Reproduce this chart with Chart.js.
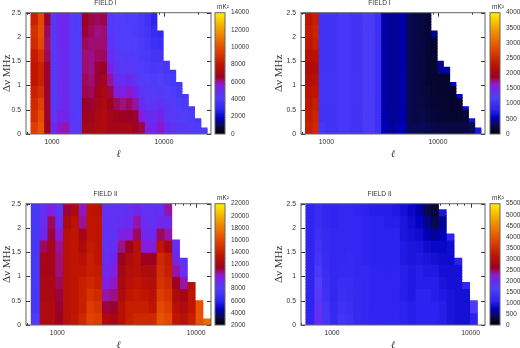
<!DOCTYPE html>
<html><head><meta charset="utf-8">
<style>
html,body{margin:0;padding:0;background:#fff;width:520px;height:348px;overflow:hidden;position:relative}
.c{position:absolute;filter:blur(0.4px)}
canvas{display:block}
</style>
<script src="https://cdn.jsdelivr.net/npm/chart.js@4"></script>
</head><body>
<script>
// Column edges in multipole l
const ellEdges=[650,740,842,958,1090,1241,1412,1607,1829,2081,2369,2695,3067,3491,3972,4521,5145,5855,6663,7582,8629,9820,11175,12717,14472,16470,18743,21330,24274];
const ellMinor=[600,700,800,900,2000,3000,4000,5000,6000,7000,8000,9000,20000];
const ellMajor=[1000,10000];
const nuTicks=[0,0.5,1,1.5,2,2.5];
const field1Bar=[0,2000,4000,6000,8000,10000,12000,14000];
const field2Bar=[0,500,1000,1500,2000,2500,3000,3500,4000];
const field3Bar=[2000,4000,6000,8000,10000,12000,14000,16000,18000,20000,22000];
const field4Bar=[0,500,1000,1500,2000,2500,3000,3500,4000,4500,5000,5500];
// Top of each column in MHz
const field1Tops=[2.5,2.5,2.5,2.5,2.5,2.5,2.5,2.5,2.5,2.5,2.5,2.5,2.5,2.5,2.5,2.5,2.5,2.5,2.5,2.5,2.125,1.5,1.3125,1.0625,0.8125,0.5625,0.3125,0.125];
const field2Tops=[2.5,2.5,2.5,2.5,2.5,2.5,2.5,2.5,2.5,2.5,2.5,2.5,2.5,2.5,2.5,2.5,2.5,2.5,2.5,2.5,2.125,1.5,1.375,1.0625,0.8125,0.5625,0.3125,0.125];
const field3Tops=[2.5,2.5,2.5,2.5,2.5,2.5,2.5,2.5,2.5,2.5,2.5,2.5,2.5,2.5,2.5,2.5,2.5,2.5,1.75,1.375,0.875,0.5,0.125];
const field4Tops=[2.5,2.5,2.5,2.5,2.5,2.5,2.5,2.5,2.5,2.5,2.5,2.5,2.5,2.5,2.5,2.5,2.5,2.375,1.875,1.375,0.875,0.5];
// Power per column (mK^2), one value per 0.25 MHz band from the bottom up
const field1Values=[
[9500,9000,8800,8500,8000,8000,8200,8800,9000,8500],
[10200,10000,9600,9000,8500,8500,9000,9800,10000,9800],
[6800,6500,6500,6500,6500,6500,6300,6200,6300,6500],
[5000,4600,4400,4400,4400,4400,4400,4400,4400,4400],
[5800,5300,5000,5000,5000,5000,5000,5100,5200,5200],
[5900,5300,5200,5200,5200,5200,5200,5200,5200,5200],
[4500,4400,4300,4300,4300,4300,4300,4300,4300,4300],
[4400,4300,4300,4300,4300,4300,4300,4300,4300,4300],
[7000,6800,6600,6400,6300,6200,6200,6300,6500,6600],
[7000,6800,6500,6300,6200,6100,6100,6200,6300,6400],
[7300,7200,7000,6800,6500,6500,6300,6200,6100,6300],
[7400,7400,7300,7200,7000,6600,6300,6200,6200,6400],
[7000,7000,6800,6400,6000,5500,5000,4800,4500,4400],
[7000,6800,6300,5600,5000,4700,4500,4300,4300,4200],
[7000,6700,6100,5400,4900,4500,4300,4200,4200,4200],
[7000,6600,6300,5800,5100,4600,4400,4200,4200,4100],
[6800,6500,6000,5300,4700,4400,4300,4200,4100,4100],
[6400,5600,5000,4600,4300,4100,4000,4000,3900,3900],
[5400,5100,4600,4400,4200,4000,3900,3800,3700,3600],
[5200,4900,4600,4300,4100,3900,3700,3500,3300,2900],
[5800,5400,4800,4400,4200,4000,3700,3400,3100],
[5000,4600,4400,4200,4000,3800],
[4700,4500,4300,4100,3900,3700],
[4500,4300,4100,3900,3800],
[4400,4200,4000,3900],
[4300,4100,3900],
[4100,3900],
[4100]];
const field2Values=[
[2400,2350,2300,2250,2150,2100,2200,2300,2350,2300],
[2500,2450,2400,2300,2200,2150,2250,2400,2450,2400],
[1100,1050,1050,1050,1050,1050,1050,1050,1050,1050],
[1050,1050,1050,1050,1050,1050,1050,1050,1050,1050],
[1050,1050,1050,1050,1050,1050,1050,1050,1050,1050],
[1100,1100,1100,1100,1100,1100,1100,1100,1100,1100],
[1100,1100,1100,1100,1100,1100,1100,1100,1100,1100],
[1050,1050,1050,1050,1050,1050,1050,1050,1050,1050],
[1050,1050,1050,1050,1050,1050,1050,1050,1050,1050],
[1150,1150,1150,1150,1150,1150,1150,1150,1150,1150],
[1150,1150,1150,1150,1150,1150,1150,1150,1150,1150],
[1000,1000,1000,1000,1000,1000,1000,1000,1000,1000],
[500,480,470,470,470,470,470,470,470,470],
[450,430,430,430,430,430,430,430,430,430],
[470,450,450,450,450,450,450,450,450,450],
[500,480,480,480,480,480,480,480,480,480],
[300,270,270,270,270,270,270,270,270,270],
[280,250,250,250,250,250,250,250,250,250],
[310,270,240,230,230,230,230,230,230,230],
[270,230,210,200,190,190,190,190,190,190],
[260,210,190,180,170,170,170,180,430],
[250,190,170,160,160,420],
[240,180,170,160,160,480],
[230,180,160,160,520],
[240,180,170,560],
[250,200,600],
[280,650],
[700]];
const field3Values=[
[7800,7500,7500,7500,7500,7500,7500,7500,7500,7500],
[12500,12500,12300,12200,12000,12000,11000,9500,9200,9000],
[12500,12500,12300,12200,12000,12000,12000,11200,11000,9800],
[11400,11300,11200,11000,10800,10800,10600,10000,9000,8500],
[13000,13000,13000,13000,13000,13000,13000,13000,12500,11200],
[13600,13500,13500,13500,13500,13500,13500,13500,13200,12500],
[14500,14000,14000,14000,13500,13000,12500,12000,10600,10300],
[15800,15500,15000,14500,14000,14000,13800,13500,13500,13500],
[15500,15000,14500,14000,13800,13500,13500,13500,13500,13200],
[12500,11200,10500,9800,9500,9000,8800,8800,8800,8800],
[12000,11300,10700,10300,9800,9500,9000,8700,8700,8700],
[13000,13000,12500,12200,12000,11500,10700,9800,9000,8800],
[14000,14000,13500,13000,12800,12500,11500,10000,9200,9000],
[14500,14000,13800,13500,13000,13000,13000,11000,10500,9500],
[14500,14000,13500,13000,12500,11500,10000,9500,9000,8800],
[14500,13500,13000,12800,12500,11500,10000,9300,9000,8800],
[16500,16000,15500,15000,14800,14500,13500,11000,9500,8800],
[16000,15500,15000,14500,14000,13800,12000,10500,9300,10500],
[13500,13000,12500,11500,10500,9500,9000],
[13000,12500,12000,10500,9000,8500],
[14000,13500,13500,13000],
[16500,16500],
[17500]];
const field4Values=[
[1150,1150,1150,1150,1150,1150,1150,1150,1150,1150],
[1950,1850,1750,1650,1550,1450,1400,1350,1300,1300],
[1500,1450,1400,1350,1300,1300,1250,1250,1200,1200],
[1250,1250,1200,1200,1200,1200,1200,1200,1150,1150],
[1450,1400,1350,1300,1250,1200,1200,1200,1200,1200],
[1400,1350,1300,1300,1250,1250,1200,1200,1200,1200],
[1250,1250,1250,1250,1200,1200,1200,1200,1200,1150],
[1200,1200,1200,1200,1200,1150,1150,1150,1150,1100],
[1150,1150,1150,1150,1150,1100,1100,1100,1100,1050],
[1150,1150,1150,1150,1150,1100,1100,1100,1100,1050],
[1150,1150,1150,1150,1100,1100,1100,1100,1050,1050],
[1150,1150,1150,1150,1150,1100,1100,1100,1050,1000],
[1100,1100,1050,1050,1050,1000,1000,950,950,900],
[1050,1050,1000,1000,1000,950,950,900,850,800],
[1100,1100,1100,1050,1050,1000,950,850,750,650],
[1100,1100,1100,1050,1000,950,850,700,550,380],
[1100,1100,1050,1050,1000,900,800,600,380,270],
[1050,1050,1000,950,900,850,800,700,600,950],
[950,950,950,900,900,850,850,1150],
[900,900,900,900,900,1100],
[900,900,900,1200],
[1100,1600]];

// Colour scale stops: fraction of the range and RGB
const paletteStops=[
[0,0,0,0],[0.07,10,10,80],[0.13,0,0,190],[0.2,45,35,240],[0.3,80,62,250],[0.37,110,40,240],[0.41,140,25,215],
[0.44,160,15,120],[0.47,155,0,35],[0.57,190,20,0],[0.71,230,75,0],[0.86,240,155,0],[1,255,240,0]];
function paletteAt(f){
  f=Math.max(0,Math.min(1,f));
  for(let i=1;i<paletteStops.length;i++){
    const a=paletteStops[i-1],b=paletteStops[i];
    if(f<=b[0]){const t=(f-a[0])/(b[0]-a[0]);
      return `rgb(${a[1]+(b[1]-a[1])*t|0},${a[2]+(b[2]-a[2])*t|0},${a[3]+(b[3]-a[3])*t|0})`;}
  }
  return 'rgb(255,240,0)';
}

const FONT='"Liberation Sans",Arial,sans-serif', SERIF='"DejaVu Serif","Liberation Serif",serif', INK='#333', FRAME='#666';
const ROW=0.0625, ROWS=40;
const rowLabels=Array.from({length:ROWS},(_,i)=>String(i*ROW));

const tickPlugin={id:'insideTicks',
  beforeDatasetsDraw(chart,_,o){
    const {ctx,chartArea:a}=chart, X=chart.scales.x, Y=chart.scales.nu;
    ctx.save();ctx.strokeStyle=INK;ctx.lineWidth=1;ctx.beginPath();
    const vt=(v,l)=>{const p=Math.round(X.getPixelForValue(v))+.5;if(p<a.left||p>a.right)return;
      ctx.moveTo(p,a.bottom);ctx.lineTo(p,a.bottom-l);ctx.moveTo(p,a.top);ctx.lineTo(p,a.top+l);};
    ellMajor.forEach(v=>vt(v,4));ellMinor.forEach(v=>vt(v,2));
    nuTicks.forEach(v=>{const p=Math.round(Y.getPixelForValue(v))+.5;
      ctx.moveTo(a.left,p);ctx.lineTo(a.left+4,p);ctx.moveTo(a.right,p);ctx.lineTo(a.right-4,p);});
    ctx.stroke();ctx.restore();
  },
  afterDraw(chart){
    const {ctx,chartArea:a}=chart;ctx.save();ctx.strokeStyle=FRAME;ctx.lineWidth=1;
    ctx.strokeRect(a.left,a.top,a.right-a.left,a.bottom-a.top);ctx.restore();
  }};

function heatmap(p){
  const box=document.createElement('div');box.className='c';
  box.style.cssText=`left:${p.left}px;top:${p.top}px;width:${p.w}px;height:174px`;
  const cv=document.createElement('canvas');box.appendChild(cv);document.body.appendChild(box);
  const datasets=p.values.map((col,k)=>{
    const data=[],colors=[];
    for(let r=0;r<ROWS;r++){
      const v=col[Math.floor(r/4)];
      if(r*ROW<p.tops[k]-1e-6&&v!=null){data.push([ellEdges[k],ellEdges[k+1]]);colors.push(paletteAt((v-p.min)/(p.max-p.min)));}
      else{data.push(null);colors.push('rgba(0,0,0,0)');}
    }
    return {label:'l'+ellEdges[k],data,backgroundColor:colors,borderWidth:0,inflateAmount:0.5,grouped:false,barPercentage:1,categoryPercentage:1,yAxisID:'y',xAxisID:'x'};
  });
  new Chart(cv,{type:'bar',data:{labels:rowLabels,datasets},plugins:[tickPlugin],options:{
    indexAxis:'y',responsive:true,maintainAspectRatio:false,animation:false,
    layout:{padding:{left:0,right:p.w-p.plotRight,top:0,bottom:0}},
    plugins:{legend:{display:false},tooltip:{enabled:false},
      title:{display:true,text:p.title,color:INK,font:{family:FONT,size:6.6,weight:'normal',lineHeight:'8.4px'},padding:{top:8.5,bottom:5.8}}},
    scales:{
      y:{type:'category',display:false,reverse:true,offset:true},
      nu:{type:'linear',position:'left',min:0,max:2.5,axis:'y',offset:false,
        afterBuildTicks:s=>{s.ticks=nuTicks.map(value=>({value}));},
        afterFit:s=>{s.width=p.plotLeft;},
        grid:{display:false,drawTicks:false},border:{display:false},
        ticks:{color:INK,font:{family:FONT,size:6.8},padding:5,autoSkip:false,maxRotation:0,callback:v=>String(v)},
        title:{display:true,text:'Δν MHz',color:INK,font:{family:'"Liberation Serif",serif',size:11,lineHeight:p.yLine+'px'},padding:{top:p.yPad,bottom:0}}},
      x:{type:'logarithmic',position:'bottom',min:p.xmin,max:p.xmax,
        afterBuildTicks:s=>{s.ticks=ellMajor.map(value=>({value,major:true}));},
        afterFit:s=>{s.height=30;},
        grid:{display:false,drawTicks:false},border:{display:false},
        ticks:{color:INK,font:{family:FONT,size:6.8},padding:4.5,autoSkip:false,maxRotation:0,callback:v=>String(v)},
        title:{display:true,text:'ℓ',color:INK,font:{family:SERIF,size:10,style:'italic',lineHeight:1.2},padding:{top:0,bottom:3.5}}}
    }}});
}

const unitPlugin={id:'unit',afterDraw(chart){
  const {ctx,chartArea:a}=chart;ctx.save();ctx.fillStyle=INK;ctx.font=`6.5px ${FONT}`;ctx.textBaseline='middle';ctx.textAlign='left';
  ctx.fillText('mK²',a.left+2,a.top-5.4);
  ctx.strokeStyle=FRAME;ctx.lineWidth=1;ctx.strokeRect(a.left,a.top,a.right-a.left,a.bottom-a.top);ctx.restore();
}};
function colourBar(p){
  const box=document.createElement('div');box.className='c';
  box.style.cssText=`left:${p.left}px;top:${p.top}px;width:45px;height:174px`;
  const cv=document.createElement('canvas');box.appendChild(cv);document.body.appendChild(box);
  const grad=c=>{const a=c.chart.chartArea;if(!a)return '#000';
    const g=c.chart.ctx.createLinearGradient(0,a.bottom,0,a.top);
    paletteStops.forEach(s=>g.addColorStop(s[0],`rgb(${s[1]},${s[2]},${s[3]})`));return g;};
  new Chart(cv,{type:'bar',data:{labels:['scale'],datasets:[{label:'mK²',data:[[p.min,p.max]],backgroundColor:grad,borderWidth:0,barPercentage:1,categoryPercentage:1}]},
    plugins:[unitPlugin],options:{responsive:true,maintainAspectRatio:false,animation:false,
    layout:{padding:{left:2,right:0,top:22.7,bottom:30}},
    plugins:{legend:{display:false},tooltip:{enabled:false},title:{display:false}},
    scales:{x:{display:false},
      y:{type:'linear',position:'right',min:p.min,max:p.max,
        afterBuildTicks:s=>{s.ticks=p.ticks.map(value=>({value}));},
        afterFit:s=>{s.width=33;},
        grid:{display:false,drawTicks:false},border:{display:false},
        ticks:{color:INK,font:{family:FONT,size:6.5},padding:6,autoSkip:false,callback:v=>String(v)}}}}});
}

heatmap({left:0,top:-10,w:246,plotLeft:26,plotRight:211,title:'FIELD I',values:field1Values,tops:field1Tops,min:0,max:14000,xmin:586,xmax:26300,yLine:12,yPad:0.7});
heatmap({left:274,top:-10,w:246,plotLeft:27,plotRight:211,title:'FIELD I',values:field2Values,tops:field2Tops,min:0,max:4000,xmin:592,xmax:26400,yLine:10,yPad:0});
heatmap({left:0,top:181.3,w:248,plotLeft:26,plotRight:211,title:'FIELD II',values:field3Values,tops:field3Tops,min:2000,max:22000,xmin:595,xmax:12800,yLine:12,yPad:0.7});
heatmap({left:274,top:181.3,w:253,plotLeft:27,plotRight:211,title:'FIELD II',values:field4Values,tops:field4Tops,min:0,max:5500,xmin:598,xmax:12700,yLine:10,yPad:0});
colourBar({left:213,top:-10,min:0,max:14000,ticks:field1Bar});
colourBar({left:488,top:-10,min:0,max:4000,ticks:field2Bar});
colourBar({left:213,top:181.3,min:2000,max:22000,ticks:field3Bar});
colourBar({left:488,top:181.3,min:0,max:5500,ticks:field4Bar});
</script>
</body></html>
